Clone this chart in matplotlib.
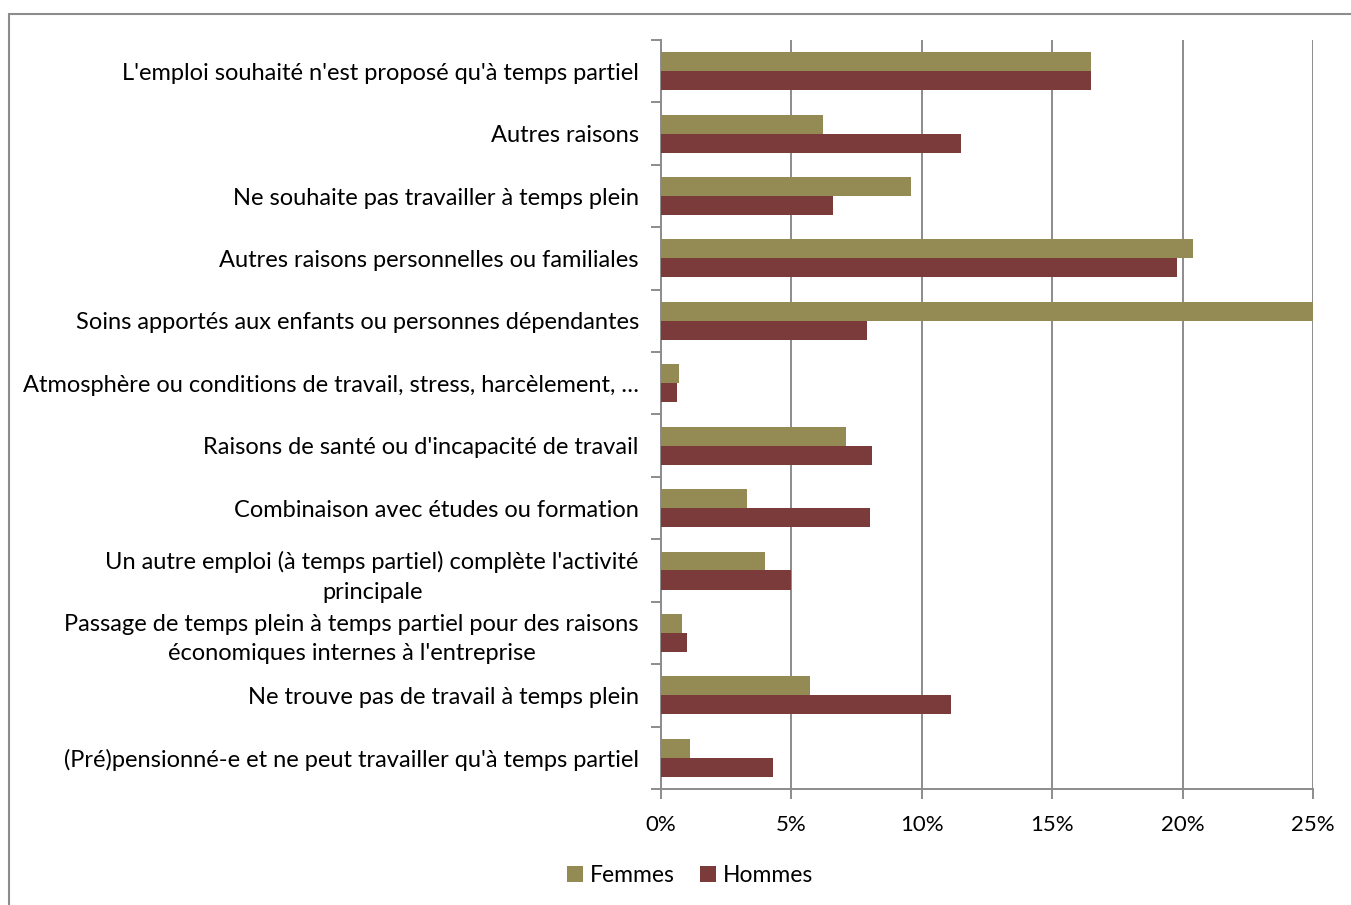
import matplotlib
matplotlib.use("Agg")
import matplotlib.pyplot as plt
from matplotlib.patches import Rectangle
from matplotlib.ticker import FixedLocator, PercentFormatter
import numpy as np

plt.rcParams["font.family"] = ["Lato", "DejaVu Sans"]

CATEGORIES = [
    "L'emploi souhaité n'est proposé qu'à temps partiel",
    "Autres raisons",
    "Ne souhaite pas travailler à temps plein",
    "Autres raisons personnelles ou familiales",
    "Soins apportés aux enfants ou personnes dépendantes",
    "Atmosphère ou conditions de travail, stress, harcèlement, …",
    "Raisons de santé ou d'incapacité de travail",
    "Combinaison avec études ou formation",
    "Un autre emploi (à temps partiel) complète l'activité\nprincipale",
    "Passage de temps plein à temps partiel pour des raisons\néconomiques internes à l'entreprise",
    "Ne trouve pas de travail à temps plein",
    "(Pré)pensionné-e et ne peut travailler qu'à temps partiel",
]
FEMMES = [16.5, 6.2, 9.6, 20.4, 25.0, 0.7, 7.1, 3.3, 4.0, 0.8, 5.7, 1.1]
HOMMES = [16.5, 11.5, 6.6, 19.8, 7.9, 0.6, 8.1, 8.0, 5.0, 1.0, 11.1, 4.3]
X_TICKS = [0, 5, 10, 15, 20, 25]

C_F = "#948A54"
C_H = "#7B3B3A"
GRID = "#8C8C8C"
FS = 17

fig = plt.figure(figsize=(13.51, 9.05), dpi=100)
ax = fig.add_axes([0.4893, 0.1282, 0.4826, 0.8276])

y = np.arange(len(CATEGORIES))
h = 0.305
ax.barh(y - 0.152, FEMMES, height=h, color=C_F, label="Femmes", zorder=3)
ax.barh(y + 0.152, HOMMES, height=h, color=C_H, label="Hommes", zorder=3)

ax.set_xlim(0, 25)
ax.set_ylim(len(CATEGORIES) - 0.5, -0.5)
ax.set_xticks(X_TICKS)
ax.xaxis.set_major_formatter(PercentFormatter(decimals=0))
ax.grid(axis="x", color=GRID, linewidth=1.4, zorder=0)

ax.set_yticks(y)
ax.set_yticklabels(CATEGORIES, fontsize=FS)
for lab in ax.get_yticklabels():
    lab.set_multialignment("center")
    lab.set_linespacing(1.5)
ax.yaxis.set_minor_locator(FixedLocator(np.arange(-0.5, len(CATEGORIES), 1)))
ax.tick_params(axis="y", which="major", length=0, pad=16)
ax.tick_params(axis="y", which="minor", length=7, width=1.4, color=GRID)
ax.tick_params(axis="x", length=7, width=1.4, color=GRID, labelsize=16, pad=12)

for side in ("top", "right"):
    ax.spines[side].set_visible(False)
for side in ("left", "bottom"):
    ax.spines[side].set_color(GRID)
    ax.spines[side].set_linewidth(1.4)

fig.legend(loc="center", bbox_to_anchor=(0.511, 0.033), ncol=2, frameon=False,
           fontsize=16.5, handlelength=0.7, handleheight=0.7, handletextpad=0.3,
           columnspacing=1.1)

fig.patches.append(Rectangle((9 / 1351, -0.05), 1.1, 1 - 14 / 905 + 0.05,
                             transform=fig.transFigure, fill=False,
                             edgecolor="#8C8C8C", linewidth=1.5))

fig.savefig("out.png", dpi=100)
